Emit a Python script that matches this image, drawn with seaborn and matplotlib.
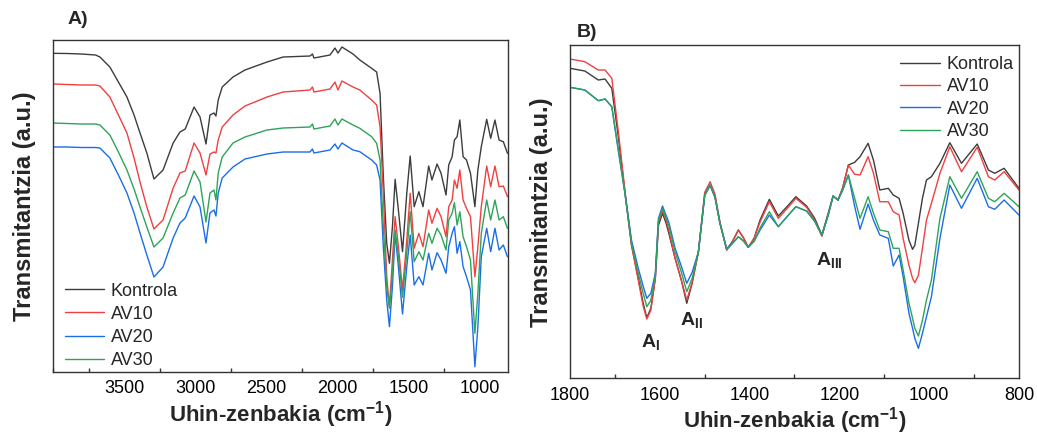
import numpy as np
import pandas as pd
import matplotlib
matplotlib.use("Agg")
import matplotlib.pyplot as plt
import seaborn as sns
from matplotlib.ticker import MultipleLocator

sns.set_style("white")
plt.rcParams['font.family'] = ['Liberation Sans', 'DejaVu Sans']
plt.rcParams['mathtext.fontset'] = 'custom'
plt.rcParams['mathtext.rm'] = 'Liberation Sans'
plt.rcParams['mathtext.bf'] = 'Liberation Sans:bold'

series = ["Kontrola", "AV10", "AV20", "AV30"]
colors = ["#3c3c3c", "#f04040", "#1a6ee8", "#2ea35a"]

# ---------------- Panel A (full spectrum) ----------------
wn_A = [4000, 3900, 3800, 3700, 3670, 3600, 3540, 3480, 3430, 3388, 3340, 3290, 3226, 3155,
        3107, 3070, 3008, 2966, 2924, 2896, 2868, 2854, 2838, 2810, 2734, 2650, 2495, 2382,
        2193, 2175, 2165, 2052, 2017, 1996, 1968, 1890,
        1842, 1759, 1724, 1700, 1677, 1653, 1634, 1613, 1594, 1571, 1542, 1512, 1488, 1460,
        1427, 1398, 1358, 1335, 1299, 1271, 1236, 1217, 1193, 1177, 1158, 1139, 1116, 1092,
        1064, 1033, 1012, 988, 950, 922, 892, 863, 833, 804]
kontrola_A = [318.7, 318.5, 318, 317, 315, 305, 290, 275, 257, 239, 219, 193, 202, 229,
              240, 243, 265, 255, 228, 257, 259, 256, 272, 285, 295, 302, 310, 315,
              316, 318, 314, 317, 324, 319, 325, 318,
              312, 303.7, 300, 278.7, 195.3, 128.7, 108.7, 145, 192.7, 162, 120.3, 178.7, 216, 165.3,
              180.3, 165.3, 206, 192, 208, 198.7, 177, 207, 215.3, 232, 235.3, 252, 215.3, 212,
              198.7, 165.3, 202, 225.3, 252.7, 233.7, 252, 232, 230.3, 218.7]
av10_A = [288, 287.5, 287, 287, 286, 275, 257, 239, 214, 190, 165, 143, 152, 184,
          199, 201, 229, 219, 197, 218, 220, 219, 232, 245, 257, 266, 275, 280,
          282, 285, 280, 283, 290, 282, 291, 285,
          282, 272, 267, 245.3, 178.7, 95.3, 65.3, 112, 155.3, 125.3, 82, 132, 178.7, 123.7,
          138.7, 125.3, 162, 148.7, 163.7, 155.3, 135.3, 165.3, 172, 192, 183.7, 202, 172, 163.7,
          155.3, 95.3, 125.3, 165.3, 206, 185.3, 206, 185.3, 186, 175.3]
av20_A = [225, 225, 224.5, 224.5, 224, 214, 197, 179, 159, 139, 117, 95, 105, 134,
          149, 154, 176, 165, 129, 159, 162, 156, 179, 194, 205, 213, 218, 220,
          220, 223, 219, 222, 228, 223, 229, 222,
          220.3, 212, 207, 192, 125.3, 72, 45.3, 85.3, 138.7, 105.3, 58, 105.3, 137, 87,
          95.3, 87, 118.7, 102, 119.3, 112, 98.7, 125.3, 138.7, 145.3, 118.7, 130.3, 105.3, 95.3,
          82, 5.3, 45.3, 115.3, 143.7, 120.3, 143.7, 122, 127, 115.3]
av30_A = [249, 248.5, 248, 248, 247, 237, 220, 202, 183, 165, 145, 125, 134, 159,
          174, 177, 201, 190, 150, 179, 182, 172, 199, 215, 229, 235, 242, 244,
          245, 248, 243, 246, 253, 247, 253, 247,
          243.7, 235.3, 228.7, 212, 145.3, 85.3, 63.7, 98.7, 142, 115.3, 74.7, 118.7, 160.3, 110.3,
          120.3, 112, 138.7, 128.7, 143.7, 137, 122, 152, 158.7, 169.3, 147, 160.3, 135.3, 125.3,
          112, 38.7, 78.7, 138.7, 172, 152, 172, 152, 155.3, 143.7]

# ---------------- Panel B (fingerprint region) ----------------
wn_B = [1800, 1767, 1737, 1722, 1707, 1692, 1677, 1663, 1648, 1637, 1629, 1620, 1610, 1603,
        1594, 1586, 1580, 1566, 1552, 1540, 1528, 1514, 1500, 1488, 1477, 1466, 1451, 1438,
        1425, 1413, 1403, 1390, 1377, 1356, 1336, 1316, 1297, 1273, 1255, 1239, 1225, 1214,
        1203, 1193, 1180, 1166, 1154, 1136, 1124, 1110, 1091, 1080, 1067, 1058, 1045, 1037,
        1032, 1024, 1015, 1006, 995, 976, 954, 928, 893, 868, 854, 833, 800]
kontrola_B = [310, 307.3, 298.3, 299.3, 290, 240, 183, 133, 100, 75, 60.6, 70, 100, 153,
              165, 155, 145, 120, 98, 75, 95, 126.6, 183, 193.3, 181, 155, 129, 137,
              148.3, 140, 131, 140, 158, 179, 162.3, 172, 181.6, 172.3, 160, 143.3, 165, 182.3,
              178.3, 190, 213.3, 216, 221.6, 235, 218, 188.3, 190, 183.3, 180, 165, 138, 129,
              133, 155, 180, 198.3, 201.6, 215, 235.6, 215, 234.3, 208.3, 205, 210, 190]
av10_B = [319.3, 316.6, 308.3, 308.3, 300, 245, 185, 133, 98, 72, 59.3, 68, 100, 156,
          167.6, 158, 148, 120, 98, 78.3, 96, 126.6, 186, 196.6, 184, 156, 128, 137,
          148.3, 140, 131, 140, 156, 176.6, 160, 170, 180, 171, 158, 142, 164, 182.3,
          178.3, 190, 213.3, 204, 203.3, 221.6, 205, 176.6, 176.6, 166.6, 163.3, 140, 113, 100,
          95.6, 103, 130, 158.3, 175, 205, 231.6, 206.6, 231, 201.6, 198.3, 206.6, 188.3]
av20_B = [291, 288.3, 277.6, 279.3, 271.6, 226, 183, 138, 110, 92, 80, 85, 105, 160,
          172.3, 163, 156, 130, 112, 95, 106, 126.6, 183, 193.3, 181, 155, 129, 135,
          141.6, 137, 131, 137, 148, 163.3, 151.6, 162, 171.6, 167.3, 157, 143.3, 163, 182.3,
          178.3, 188, 203.3, 172, 149, 174.3, 158, 143.3, 140, 112.3, 123.3, 101.6, 65, 50,
          40, 30, 45, 61.6, 81.6, 140, 193.3, 170, 200, 171.6, 169, 178.3, 163.3]
av30_B = [291, 288.3, 277.6, 279.3, 271.6, 228, 183, 135, 105, 85, 71.6, 78, 103, 158,
          170, 160, 153, 126.6, 106, 86.6, 100, 126.6, 183, 193.3, 181, 155, 129, 135,
          141.6, 137, 131, 137, 150, 166.6, 151.6, 162, 171.6, 167.3, 157, 143.3, 163, 182.3,
          178.3, 188, 203.3, 180, 160, 181.6, 165, 148.3, 146.6, 130, 130, 108.3, 75, 60,
          50, 42.3, 58, 78.3, 98.3, 160, 201.6, 180, 206.6, 180, 176.6, 185, 171.6]

ticks_A = [3500, 3000, 2500, 2000, 1500, 1000]
ticks_B = [1800, 1600, 1400, 1200, 1000, 800]


def long_df(wn, vals):
    frames = []
    for name, v in zip(series, vals):
        assert len(v) == len(wn), (name, len(v), len(wn))
        frames.append(pd.DataFrame({"wn": wn, "T": v, "sample": name}))
    return pd.concat(frames, ignore_index=True)


dfA = long_df(wn_A, [kontrola_A, av10_A, av20_A, av30_A])
dfB = long_df(wn_B, [kontrola_B, av10_B, av20_B, av30_B])

fig = plt.figure(figsize=(10.37, 4.34), dpi=100)
axA = fig.add_axes([0.0511, 0.1429, 0.4388, 0.7649])
axB = fig.add_axes([0.5497, 0.1283, 0.4329, 0.7673])

palette = dict(zip(series, colors))
for ax, df in [(axA, dfA), (axB, dfB)]:
    sns.lineplot(data=df, x="wn", y="T", hue="sample", hue_order=series, palette=palette,
                 linewidth=1.0, ax=ax, legend=True, estimator=None, sort=False)

axA.set_xlim(4000, 800)
axA.set_ylim(0, 332)
axB.set_xlim(1800, 800)
axB.set_ylim(0, 333)

axA.set_xticks(ticks_A)
axA.xaxis.set_minor_locator(MultipleLocator(250))
axB.set_xticks(ticks_B)
axB.xaxis.set_minor_locator(MultipleLocator(100))

for ax in (axA, axB):
    ax.set_yticks([])
    ax.tick_params(axis='x', which='major', direction='in', length=5, width=1,
                   labelsize=13, pad=6, colors='#333333', labelcolor='black')
    ax.tick_params(axis='x', which='minor', direction='in', length=3, width=1,
                   colors='#333333', bottom=True)
    for s in ax.spines.values():
        s.set_visible(True)
        s.set_color('#333333')
        s.set_linewidth(1.0)
    ax.set_xlabel(r'Uhin-zenbakia (cm$^{\mathbf{-1}}$)', fontsize=16, fontweight='bold', labelpad=1)
    ax.set_ylabel('Transmitantzia (a.u.)', fontsize=17, fontweight='bold', labelpad=12)

handles, labels = axA.get_legend_handles_labels()
axA.legend(handles, labels, loc='lower left', frameon=False, fontsize=13,
           handlelength=2.2, handletextpad=0.35, labelspacing=0.34,
           borderaxespad=0.0, bbox_to_anchor=(0.01, -0.013))
handles, labels = axB.get_legend_handles_labels()
axB.legend(handles, labels, loc='upper right', frameon=False, fontsize=13,
           handlelength=2.2, handletextpad=0.4, labelspacing=0.3,
           borderaxespad=0.0, bbox_to_anchor=(1.005, 0.99))

fig.text(0.075, 0.955, 'A)', fontsize=14, fontweight='bold', ha='center', va='center')
fig.text(0.566, 0.925, 'B)', fontsize=14, fontweight='bold', ha='center', va='center')

axB.text(1620, 36, r'$\mathbf{A_{I}}$', fontsize=14, ha='center', va='center')
axB.text(1530, 58, r'$\mathbf{A_{II}}$', fontsize=14, ha='center', va='center')
axB.text(1222, 118, r'$\mathbf{A_{III}}$', fontsize=14, ha='center', va='center')

fig.savefig("out.png", dpi=100)
